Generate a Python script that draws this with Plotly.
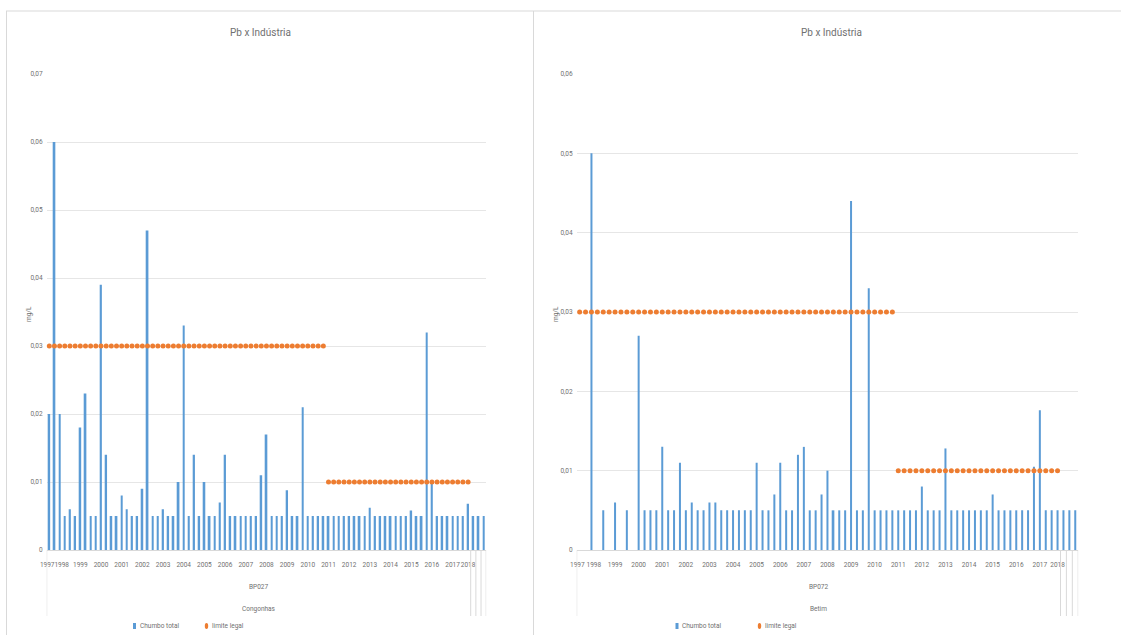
import plotly.graph_objects as go

# ---- data -------------------------------------------------------------
# Quarterly lead (Pb) results, mg/L, one value per sampling slot (85 slots)
congonhas_pb = [
    0.02, 0.06, 0.02, 0.005, 0.006, 0.005, 0.018, 0.023, 0.005, 0.005,
    0.039, 0.014, 0.005, 0.005, 0.008, 0.006, 0.005, 0.005, 0.009, 0.047,
    0.005, 0.005, 0.006, 0.005, 0.005, 0.01, 0.033, 0.005, 0.014, 0.005,
    0.01, 0.005, 0.005, 0.007, 0.014, 0.005, 0.005, 0.005, 0.005, 0.005,
    0.005, 0.011, 0.017, 0.005, 0.005, 0.005, 0.0088, 0.005, 0.005, 0.021,
    0.005, 0.005, 0.005, 0.005, 0.005, 0.005, 0.005, 0.005, 0.005, 0.005,
    0.005, 0.005, 0.0062, 0.005, 0.005, 0.005, 0.005, 0.005, 0.005, 0.005,
    0.0058, 0.005, 0.005, 0.032, 0.01, 0.005, 0.005, 0.005, 0.005, 0.005,
    0.005, 0.0068, 0.005, 0.005, 0.005,
]

betim_pb = [
    None, None, 0.05, None, 0.005, None, 0.006, None, 0.005, None,
    0.027, 0.005, 0.005, 0.005, 0.013, 0.005, 0.005, 0.011, 0.005, 0.006,
    0.005, 0.005, 0.006, 0.006, 0.005, 0.005, 0.005, 0.005, 0.005, 0.005,
    0.011, 0.005, 0.005, 0.007, 0.011, 0.005, 0.005, 0.012, 0.013, 0.005,
    0.005, 0.007, 0.01, 0.005, 0.005, 0.005, 0.044, 0.005, 0.005, 0.033,
    0.005, 0.005, 0.005, 0.005, 0.005, 0.005, 0.005, 0.005, 0.008, 0.005,
    0.005, 0.005, 0.0128, 0.005, 0.005, 0.005, 0.005, 0.005, 0.005, 0.005,
    0.007, 0.005, 0.005, 0.005, 0.005, 0.005, 0.005, 0.0105, 0.0176, 0.005,
    0.005, 0.005, 0.005, 0.005, 0.005,
]

# Legal limit per slot: 0.03 mg/L up to 2010, 0.01 mg/L from 2011 on
limit_legal = [0.03] * 54 + [0.01] * 28 + [None] * 3

# Year labels of the category axis and the slot each one sits on
year_labels = ["1997", "1998"] + [str(y) for y in range(1999, 2018)] + ["2018"]
year_slots = [-0.4, 2.4] + [6 + 4 * k for k in range(19)] + [81]

left_ticks = [0, 0.01, 0.02, 0.03, 0.04, 0.05, 0.06, 0.07]
left_tick_text = ["0", "0,01", "0,02", "0,03", "0,04", "0,05", "0,06", "0,07"]
right_ticks = [0, 0.01, 0.02, 0.03, 0.04, 0.05, 0.06]
right_tick_text = ["0", "0,01", "0,02", "0,03", "0,04", "0,05", "0,06"]

title_text = "Pb x Indústria"
series_bar = "Chumbo total"
series_limit = "limite legal"

# ---- styling ----------------------------------------------------------
W, H = 1121, 635
BLUE = "#5B9BD5"
ORANGE = "#ED7D31"
TEXT = "#707070"
GRID = "#E6E6E6"
FRAME = "#D9D9D9"
FONT = "Liberation Sans Narrow, Roboto, Liberation Sans, sans-serif"


def fx(px):
    return px / W


def fy(py):
    return 1 - py / H


slots = list(range(len(congonhas_pb)))

fig = go.Figure()

fig.add_trace(go.Bar(
    x=slots, y=congonhas_pb, name=series_bar, width=0.34,
    marker=dict(color=BLUE, line=dict(width=0)),
    xaxis="x", yaxis="y",
))
fig.add_trace(go.Scatter(
    x=slots, y=limit_legal, name=series_limit, mode="markers",
    marker=dict(color=ORANGE, size=5, symbol="circle"),
    xaxis="x", yaxis="y", cliponaxis=False,
))
fig.add_trace(go.Bar(
    x=slots, y=betim_pb, name=series_bar, width=0.34,
    marker=dict(color=BLUE, line=dict(width=0)),
    xaxis="x2", yaxis="y2",
))
fig.add_trace(go.Scatter(
    x=slots, y=limit_legal, name=series_limit, mode="markers",
    marker=dict(color=ORANGE, size=5, symbol="circle"),
    xaxis="x2", yaxis="y2", cliponaxis=False,
))

xaxis_common = dict(
    range=[-0.5, len(slots) - 0.5],
    tickvals=year_slots, ticktext=year_labels,
    ticks="", showgrid=False, zeroline=False,
    showline=True, linecolor=FRAME, linewidth=1,
    tickfont=dict(size=6.5, color=TEXT, family=FONT),
    tickangle=0, ticklabelstandoff=8, fixedrange=True, automargin=False,
)
yaxis_common = dict(
    ticks="", showline=False, zeroline=False,
    showgrid=True, gridcolor=GRID, gridwidth=1,
    tickfont=dict(size=6.5, color=TEXT, family=FONT),
    ticklabelstandoff=3, fixedrange=True, automargin=False,
)

shapes = [
    # outer frame and panel divider
    dict(type="line", xref="paper", yref="paper", x0=fx(6), x1=1, y0=fy(11), y1=fy(11),
         line=dict(color=FRAME, width=1)),
    dict(type="line", xref="paper", yref="paper", x0=fx(6.5), x1=fx(6.5), y0=fy(11), y1=0,
         line=dict(color=FRAME, width=1)),
    dict(type="line", xref="paper", yref="paper", x0=fx(533.5), x1=fx(533.5), y0=fy(11), y1=0,
         line=dict(color=FRAME, width=1)),
]
# multi-level category axis dividers under each panel
for xr in ("x", "x2"):
    for xv in [-0.5, 81.5, 82.5, 83.5, 84.5]:
        shapes.append(dict(type="line", xref=xr, yref="paper", x0=xv, x1=xv,
                           y0=fy(550), y1=fy(616), line=dict(color=FRAME, width=1)))

annotations = []
panels = (
    # axis ref, station, city, title x, y-title x, legend icon x (bar, limit)
    ("x", "BP027", "Congonhas", 260, 29, 134.5, 206.5),
    ("x2", "BP072", "Betim", 831, 556, 677, 759.5),
)
for xr, station, city, title_x, ytitle_x, leg_bar_x, leg_lim_x in panels:
    annotations += [
        dict(text=title_text, xref="paper", yref="paper", x=fx(title_x), y=fy(32),
             xanchor="center", yanchor="middle", showarrow=False,
             font=dict(size=10, color=TEXT, family=FONT)),
        dict(text="mg/L", xref="paper", yref="paper", x=fx(ytitle_x), y=fy(314),
             xanchor="center", yanchor="middle", textangle=-90, showarrow=False,
             font=dict(size=6.5, color=TEXT, family=FONT)),
        dict(text=station, xref=xr, yref="paper", x=40.5, y=fy(587),
             xanchor="center", yanchor="middle", showarrow=False,
             font=dict(size=6.5, color=TEXT, family=FONT)),
        dict(text=city, xref=xr, yref="paper", x=40.5, y=fy(609),
             xanchor="center", yanchor="middle", showarrow=False,
             font=dict(size=6.5, color=TEXT, family=FONT)),
        # legend entries
        dict(text=series_bar, xref="paper", yref="paper", x=fx(leg_bar_x + 3), y=fy(626),
             xanchor="left", yanchor="middle", showarrow=False,
             font=dict(size=6.5, color=TEXT, family=FONT)),
        dict(text=series_limit, xref="paper", yref="paper", x=fx(leg_lim_x + 3), y=fy(626),
             xanchor="left", yanchor="middle", showarrow=False,
             font=dict(size=6.5, color=TEXT, family=FONT)),
    ]
    # legend keys
    shapes.append(dict(type="rect", xref="paper", yref="paper",
                       x0=fx(leg_bar_x - 1.5), x1=fx(leg_bar_x + 1.5),
                       y0=fy(629), y1=fy(623), fillcolor=BLUE, line=dict(width=0)))
    shapes.append(dict(type="circle", xref="paper", yref="paper",
                       x0=fx(leg_lim_x - 1.7), x1=fx(leg_lim_x + 1.7),
                       y0=fy(629), y1=fy(623), fillcolor=ORANGE, line=dict(width=0)))

fig.update_layout(
    width=W, height=H,
    margin=dict(l=0, r=0, t=0, b=0, autoexpand=False),
    paper_bgcolor="white", plot_bgcolor="white",
    font=dict(family=FONT, color=TEXT),
    showlegend=False,
    xaxis=dict(domain=[fx(46.7), fx(486.2)], anchor="y", **xaxis_common),
    yaxis=dict(domain=[fy(550), fy(74)], anchor="x", range=[0, 0.07],
               tickvals=left_ticks, ticktext=left_tick_text, **yaxis_common),
    xaxis2=dict(domain=[fx(576.7), fx(1078.2)], anchor="y2", **xaxis_common),
    yaxis2=dict(domain=[fy(550), fy(74)], anchor="x2", range=[0, 0.06],
                tickvals=right_ticks, ticktext=right_tick_text, **yaxis_common),
    shapes=shapes,
    annotations=annotations,
)

fig.write_html("out.html", config={"displayModeBar": False})
